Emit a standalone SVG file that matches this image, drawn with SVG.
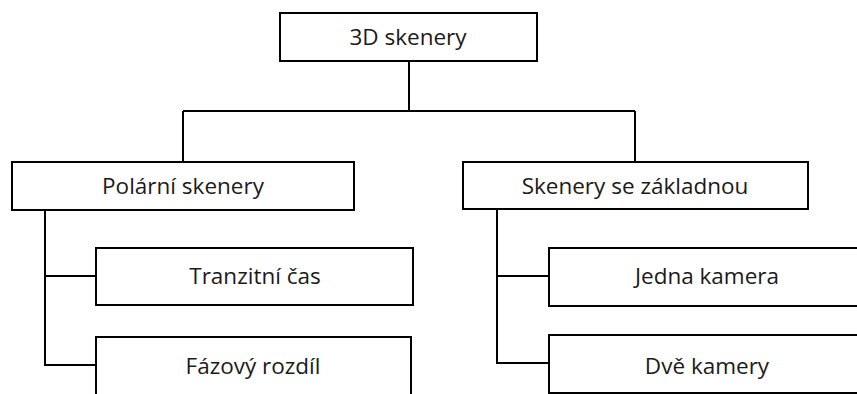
<svg xmlns="http://www.w3.org/2000/svg" width="857" height="394" viewBox="0 0 857 394">
<style>
.box{fill:#fff;stroke:#000;stroke-width:2}
.lbl{font-family:"Open Sans","Liberation Sans",sans-serif;font-size:22.5px;fill:#1a1a1a;text-anchor:middle}
.con{fill:none;stroke:#000;stroke-width:2}
</style>
<rect width="857" height="394" fill="#fff"/>
<g id="connectors">
<path class="con" d="M409 61V111M183 111H635M183 111V162M635 111V162"/>
<path class="con" d="M45 210V365H96M45 276H96"/>
<path class="con" d="M497 209V363H549M497 276H549"/>
</g>
<g id="n-root"><rect class="box" x="280" y="13" width="257" height="48"/><text class="lbl" x="408" y="45">3D skenery</text></g>
<g id="n-polarni"><rect class="box" x="12" y="162" width="342" height="48"/><text class="lbl" x="183" y="194">Polární skenery</text></g>
<g id="n-zakladna"><rect class="box" x="463" y="162" width="345" height="47"/><text class="lbl" x="635" y="194">Skenery se základnou</text></g>
<g id="n-tranzit"><rect class="box" x="96" y="248" width="317" height="57"/><text class="lbl" x="255" y="284">Tranzitní čas</text></g>
<g id="n-faze"><rect class="box" x="96" y="337" width="315" height="70"/><text class="lbl" x="253" y="374">Fázový rozdíl</text></g>
<g id="n-jedna"><rect class="box" x="549" y="248" width="317" height="58"/><text class="lbl" x="707" y="284">Jedna kamera</text></g>
<g id="n-dve"><rect class="box" x="549" y="335" width="317" height="58"/><text class="lbl" x="707" y="374">Dvě kamery</text></g>
</svg>
